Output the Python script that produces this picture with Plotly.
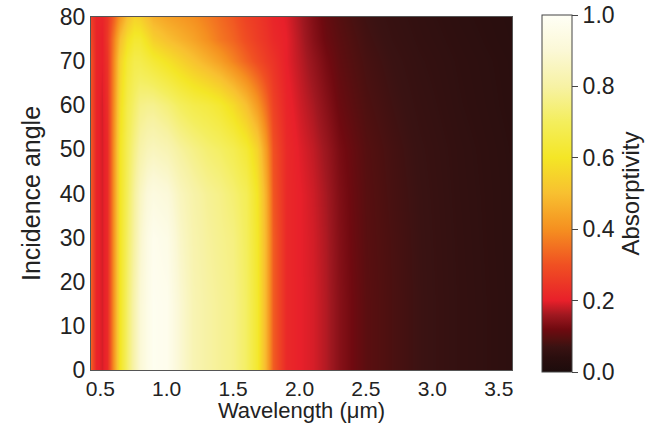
import plotly.graph_objects as go

wavelength = [0.43, 0.47, 0.51, 0.55, 0.6, 0.65, 0.7, 0.75, 0.8, 0.85, 0.9, 1.0, 1.1, 1.2, 1.3, 1.4,
              1.5, 1.6, 1.68, 1.75, 1.8, 1.9, 2.0, 2.1, 2.2, 2.3, 2.4, 2.5, 2.7, 2.9, 3.2, 3.6]
angle = [0, 15, 30, 40, 50, 60, 70, 75, 80]

a0 = [0.32, 0.21, 0.19, 0.22, 0.42, 0.60, 0.72, 0.82, 0.90, 0.95, 0.98, 0.97, 0.89, 0.83, 0.80, 0.78,
      0.76, 0.71, 0.62, 0.47, 0.32, 0.22, 0.20, 0.19, 0.17, 0.14, 0.118, 0.10, 0.085, 0.072, 0.058, 0.045]
a15 = [0.32, 0.21, 0.19, 0.22, 0.42, 0.60, 0.72, 0.82, 0.90, 0.95, 0.98, 0.97, 0.89, 0.83, 0.80, 0.78,
       0.76, 0.71, 0.62, 0.47, 0.32, 0.22, 0.20, 0.19, 0.17, 0.14, 0.118, 0.10, 0.085, 0.072, 0.058, 0.045]
a30 = [0.32, 0.21, 0.19, 0.22, 0.42, 0.60, 0.71, 0.80, 0.88, 0.94, 0.97, 0.95, 0.87, 0.82, 0.79, 0.77,
       0.75, 0.70, 0.61, 0.47, 0.32, 0.22, 0.20, 0.188, 0.167, 0.137, 0.115, 0.098, 0.084, 0.071, 0.057, 0.044]
a40 = [0.31, 0.21, 0.19, 0.22, 0.42, 0.60, 0.70, 0.79, 0.86, 0.91, 0.93, 0.91, 0.85, 0.81, 0.78, 0.76,
       0.73, 0.69, 0.60, 0.46, 0.31, 0.22, 0.20, 0.185, 0.163, 0.134, 0.113, 0.097, 0.082, 0.070, 0.056, 0.044]
a50 = [0.31, 0.21, 0.19, 0.22, 0.42, 0.60, 0.69, 0.76, 0.81, 0.84, 0.85, 0.83, 0.79, 0.76, 0.73, 0.71,
       0.68, 0.63, 0.55, 0.42, 0.30, 0.22, 0.195, 0.178, 0.155, 0.128, 0.11, 0.095, 0.08, 0.068, 0.055, 0.043]
a60 = [0.30, 0.21, 0.19, 0.23, 0.41, 0.58, 0.67, 0.72, 0.76, 0.77, 0.77, 0.74, 0.70, 0.67, 0.65, 0.62,
       0.57, 0.50, 0.42, 0.34, 0.27, 0.21, 0.185, 0.165, 0.14, 0.115, 0.10, 0.088, 0.075, 0.064, 0.052, 0.041]
a70 = [0.30, 0.21, 0.20, 0.24, 0.40, 0.55, 0.63, 0.67, 0.67, 0.65, 0.63, 0.59, 0.55, 0.51, 0.47, 0.43,
       0.38, 0.33, 0.29, 0.26, 0.24, 0.20, 0.175, 0.15, 0.125, 0.105, 0.092, 0.082, 0.07, 0.06, 0.05, 0.04]
a75 = [0.28, 0.21, 0.20, 0.25, 0.38, 0.50, 0.58, 0.62, 0.62, 0.58, 0.54, 0.50, 0.47, 0.44, 0.40, 0.36,
       0.33, 0.29, 0.26, 0.24, 0.22, 0.20, 0.17, 0.14, 0.115, 0.10, 0.088, 0.078, 0.066, 0.057, 0.048, 0.038]
a80 = [0.26, 0.21, 0.21, 0.24, 0.33, 0.42, 0.50, 0.55, 0.54, 0.50, 0.47, 0.44, 0.42, 0.40, 0.37, 0.34,
       0.31, 0.27, 0.25, 0.23, 0.21, 0.195, 0.165, 0.135, 0.11, 0.095, 0.083, 0.074, 0.063, 0.055, 0.046, 0.037]

absorptivity = [a0, a15, a30, a40, a50, a60, a70, a75, a80]

colorscale = [
    [0.0, "#1c0c0c"], [0.04, "#2a0e0e"], [0.07, "#3a1212"], [0.09, "#501010"],
    [0.12, "#700a10"], [0.16, "#a01820"], [0.2, "#e8202a"], [0.3, "#f05022"],
    [0.4, "#f59020"], [0.5, "#f8c030"], [0.6, "#f4e626"], [0.7, "#f4ee5c"],
    [0.8, "#f7f2a4"], [0.9, "#fbf8d6"], [1.0, "#fffff6"],
]

font = "Liberation Sans, Arial, sans-serif"

fig = go.Figure(go.Heatmap(
    x=wavelength, y=angle, z=absorptivity,
    zmin=0, zmax=1, zsmooth="best", colorscale=colorscale, hoverinfo="skip",
    colorbar=dict(
        title=dict(text="Absorptivity", side="right", font=dict(size=24, family=font, color="#222")),
        x=1.071, xanchor="left", y=0.5, yanchor="middle", len=1.01, lenmode="fraction",
        ypad=0, xpad=0,
        thickness=30, outlinewidth=1, outlinecolor="#444",
        tickmode="linear", tick0=0, dtick=0.2, tickformat=".1f",
        ticks="outside", ticklen=6, tickcolor="#444",
        tickfont=dict(size=23, family=font, color="#222"),
    ),
))

fig.update_layout(
    width=646, height=423,
    margin=dict(l=91, r=134, t=17, b=53, autoexpand=False),
    paper_bgcolor="white", plot_bgcolor="white",
    font=dict(family=font, color="#222"),
)
fig.update_xaxes(
    range=[0.43, 3.6], tickmode="array", tickvals=[0.5, 1.0, 1.5, 2.0, 2.5, 3.0, 3.5],
    ticktext=["0.5", "1.0", "1.5", "2.0", "2.5", "3.0", "3.5"],
    tickfont=dict(size=21, family=font), ticks="", showgrid=False, zeroline=False,
    showline=True, mirror=True, linecolor="#555", linewidth=1,
    title=dict(text="Wavelength (μm)", font=dict(size=22, family=font), standoff=0),
)
fig.update_yaxes(
    range=[0, 80], tickmode="linear", tick0=0, dtick=10,
    tickfont=dict(size=23, family=font), ticks="", showgrid=False, zeroline=False,
    showline=True, mirror=True, linecolor="#555", linewidth=1,
    title=dict(text="Incidence angle", font=dict(size=25, family=font), standoff=12),
)

fig.write_html("out.html", config={"displayModeBar": False},
               post_script="document.body.style.margin='0';")
